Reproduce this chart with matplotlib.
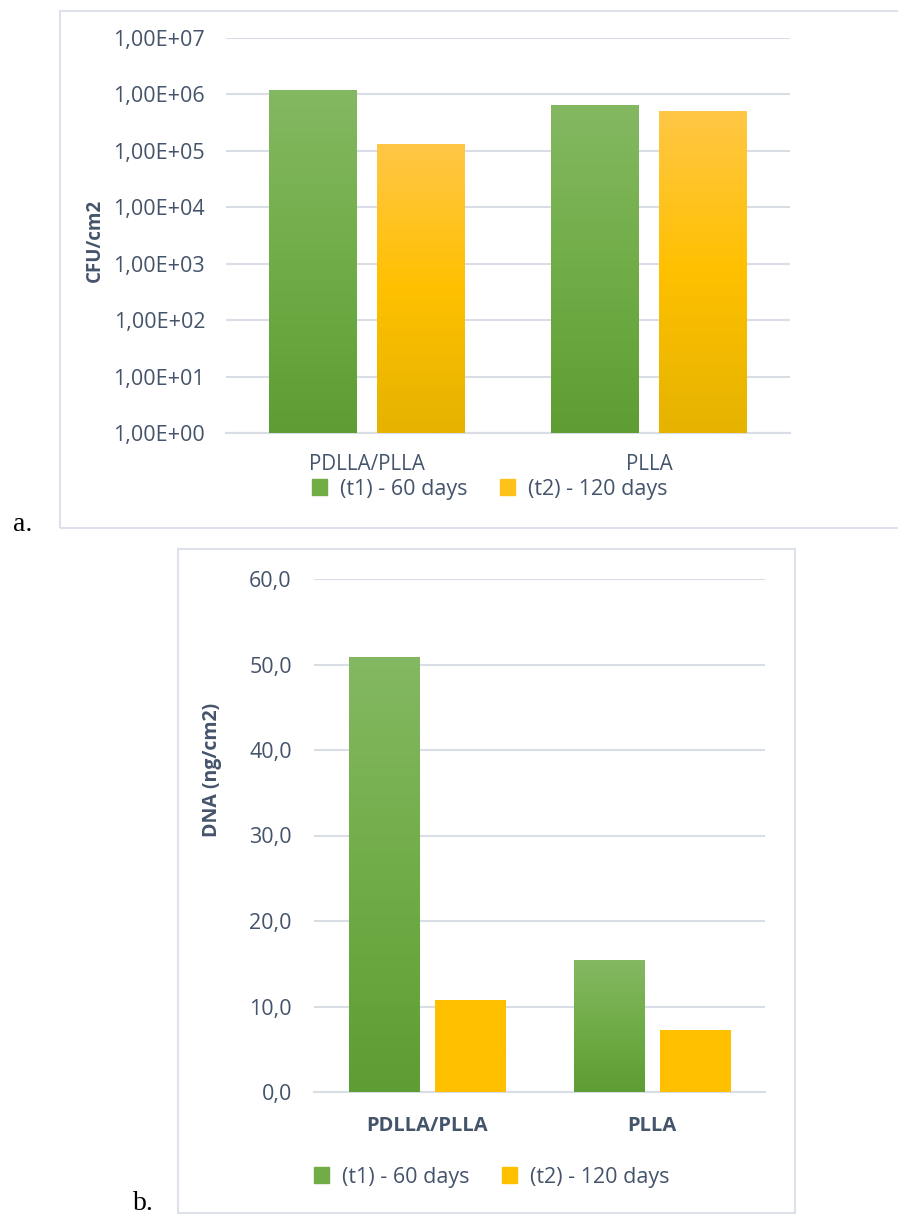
import numpy as np
import matplotlib
matplotlib.use('Agg')
import matplotlib.pyplot as plt
from matplotlib.patches import Rectangle
from matplotlib.colors import LinearSegmentedColormap
from matplotlib.ticker import FuncFormatter

# data
materials = ['PDLLA/PLLA', 'PLLA']
series = ['(t1) - 60 days', '(t2) - 120 days']
cfu_t1 = [1.2e6, 6.5e5]
cfu_t2 = [1.32e5, 5.1e5]
dna_t1 = [50.9, 15.4]
dna_t2 = [10.8, 7.3]

W, H = 898, 1219
txt = '#44546A'
grid_c = '#D9DEE6'
font = 'Open Sans'

green = LinearSegmentedColormap.from_list('g', ['#5E9D33', '#70AD47', '#84B862'])
yellow = LinearSegmentedColormap.from_list('y', ['#E5B300', '#FFC000', '#FFC746'])
flat_yellow = LinearSegmentedColormap.from_list('fy', ['#FFC000', '#FFC000'])

fig = plt.figure(figsize=(W / 100, H / 100), dpi=100)


def px_axes(left, top, right, bottom):
    return fig.add_axes([left / W, 1 - bottom / H, (right - left) / W, (bottom - top) / H])


def frame(left, top, right, bottom):
    fig.patches.append(Rectangle((left / W, 1 - bottom / H), (right - left) / W, (bottom - top) / H,
                                 transform=fig.transFigure, fill=False, ec='#DDE2EA', lw=1.5))


def gradient_bars(ax, xs, vals, width, cmap):
    bars = ax.bar(xs, vals, width, color=cmap(0.5), zorder=2)
    grad = np.linspace(0, 1, 256).reshape(-1, 1)
    for b, x, v in zip(bars, xs, vals):
        im = ax.imshow(grad, cmap=cmap, origin='lower', aspect='auto', zorder=3,
                       extent=(x - width / 2, x + width / 2, 0, v), interpolation='bilinear')
        im.set_clip_path(b)
    return bars


def style(ax):
    for s in ['top', 'right', 'left']:
        ax.spines[s].set_visible(False)
    ax.spines['bottom'].set_color(grid_c)
    ax.spines['bottom'].set_linewidth(1.5)
    ax.grid(axis='y', color=grid_c, lw=1.5, zorder=0)
    ax.set_axisbelow(True)
    ax.tick_params(length=0)
    ax.set_xlim(-0.5, 1.5)


x = np.arange(len(materials))
bw = 0.312
off = 0.191

# a. CFU per cm2, drawn as decades (log10) on a linear axis
frame(60, 11, 905, 528)
ax1 = px_axes(226, 38, 790, 433)
gradient_bars(ax1, x - off, np.log10(cfu_t1), bw, green)
gradient_bars(ax1, x + off, np.log10(cfu_t2), bw, yellow)
style(ax1)
ax1.set_ylim(0, 7)
ax1.set_yticks(range(8))
ax1.yaxis.set_major_formatter(FuncFormatter(lambda v, p: '1,00E+%02d' % round(v)))
ax1.set_xticks(x, materials)
ax1.tick_params(axis='y', labelsize=15.5, labelcolor=txt, pad=15)
ax1.tick_params(axis='x', labelsize=14.8, labelcolor=txt, pad=15)
for t in ax1.get_xticklabels() + ax1.get_yticklabels():
    t.set_fontfamily(font)
fig.text(95 / W, 1 - 240 / H, 'CFU/cm2', rotation=90, ha='center', va='center',
         fontsize=13.5, fontweight='bold', color=txt, family=font)
h1 = [Rectangle((0, 0), 1, 1, color='#70AD47'), Rectangle((0, 0), 1, 1, color='#FFC21A')]
fig.legend(h1, series, loc='center', bbox_to_anchor=(490 / W, 1 - 489 / H), ncol=2, frameon=False,
           handlelength=0.7, handleheight=0.7, handletextpad=0.6, columnspacing=1.5,
           prop={'family': font, 'size': 15.5}, labelcolor=txt)
fig.text(23 / W, 1 - 531 / H, 'a.', ha='center', va='baseline', fontsize=20, family='Liberation Serif')

# b. DNA per cm2
frame(178, 549, 795, 1213)
ax2 = px_axes(314, 579, 765, 1092)
gradient_bars(ax2, x - off, dna_t1, bw, green)
gradient_bars(ax2, x + off, dna_t2, bw, flat_yellow)
style(ax2)
ax2.set_ylim(0, 60)
ax2.set_yticks(np.arange(0, 61, 10))
ax2.yaxis.set_major_formatter(FuncFormatter(lambda v, p: ('%.1f' % v).replace('.', ',')))
ax2.set_xticks(x, materials)
ax2.tick_params(axis='y', labelsize=15.5, labelcolor=txt, pad=16)
ax2.tick_params(axis='x', labelsize=14.5, labelcolor=txt, pad=17)
for t in ax2.get_xticklabels() + ax2.get_yticklabels():
    t.set_fontfamily(font)
for t in ax2.get_xticklabels():
    t.set_fontweight('bold')
fig.text(212 / W, 1 - 770 / H, 'DNA (ng/cm2)', rotation=90, ha='center', va='center',
         fontsize=14, fontweight='bold', color=txt, family=font)
h2 = [Rectangle((0, 0), 1, 1, color='#70AD47'), Rectangle((0, 0), 1, 1, color='#FFC000')]
fig.legend(h2, series, loc='center', bbox_to_anchor=(492 / W, 1 - 1177 / H), ncol=2, frameon=False,
           handlelength=0.7, handleheight=0.7, handletextpad=0.6, columnspacing=1.5,
           prop={'family': font, 'size': 15.5}, labelcolor=txt)
fig.text(143 / W, 1 - 1210 / H, 'b.', ha='center', va='baseline', fontsize=20, family='Liberation Serif')

fig.savefig('out.png', dpi=100)
